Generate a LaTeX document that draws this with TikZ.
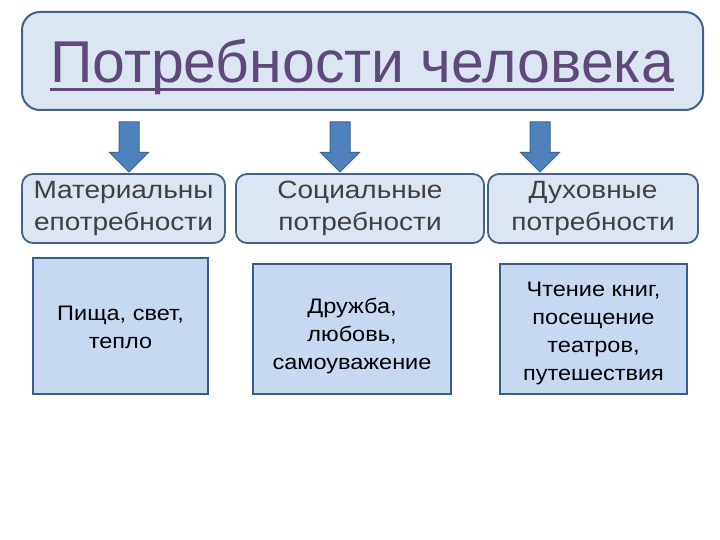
\documentclass[tikz,border=0pt]{standalone}
\usepackage{fontspec}
\setmainfont{Liberation Sans}[FakeStretch=1.12]
\newfontfamily\headfont{Liberation Sans}
\usetikzlibrary{shapes,arrows}
\definecolor{paleblue}{RGB}{220,230,242}
\definecolor{boxblue}{RGB}{198,217,241}
\definecolor{edgeblue}{RGB}{68,98,138}
\definecolor{darkedge}{RGB}{56,93,138}
\definecolor{arrowblue}{RGB}{79,129,189}
\definecolor{arrowedge}{RGB}{58,102,152}
\definecolor{titlepurple}{RGB}{95,73,122}
\definecolor{graytext}{RGB}{64,64,64}
\tikzstyle{head} = [rectangle, draw=edgeblue, fill=paleblue, line width=2pt,
    rounded corners=18pt, inner sep=0pt]
\tikzstyle{group} = [rectangle, draw=edgeblue, fill=paleblue, line width=1.8pt,
    rounded corners=11pt, text=graytext, align=center, inner sep=0pt,
    font=\fontsize{25}{32}\selectfont]
\tikzstyle{example} = [rectangle, draw=darkedge, fill=boxblue, line width=1.6pt,
    inner sep=0pt]
\tikzstyle{exampletext} = [align=center, inner sep=0pt, font=\fontsize{21}{28}\selectfont]
\tikzstyle{down} = [single arrow, draw=arrowedge, fill=arrowblue, line width=1pt,
    shape border rotate=270, inner sep=9.5pt, minimum height=50pt,
    single arrow head extend=9.5pt, single arrow head indent=0pt]

\begin{document}
\begin{tikzpicture}[x=1pt, y=-1pt]
        \path[fill=white, use as bounding box] (0,0) rectangle (720,540);
        % Place nodes
        % 1. Title
        \node [head, minimum width=681pt, minimum height=98pt] (needs) at (362.5,61) {};
        \node [anchor=base, inner sep=0pt, text=titlepurple,
               font=\headfont\fontsize{59}{64}\selectfont] (ttl) at (362,83) {Потребности человека};
        \draw [titlepurple, line width=3pt] ([yshift=-7pt]ttl.base west) -- ([yshift=-7pt]ttl.base east);

        % 2. Arrows down to the groups
        \node [down] (toMatl) at (129,142) {};
        \node [down] (toSoc) at (340,142) {};
        \node [down] (toSpir) at (540,142) {};

        % 3. Groups of needs
        \node [group, minimum width=203pt, minimum height=69pt] (matl) at (123.5,208.5) {Материальны\\епотребности};
        \node [group, minimum width=248pt, minimum height=69pt] (soc) at (360,208.5) {Социальные\\потребности};
        \node [group, minimum width=210pt, minimum height=69pt] (spir) at (593,208.5) {Духовные\\потребности};

        % 4. Examples (box, then its text)
        \node [example, minimum width=175pt, minimum height=136pt] (matlEx) at (120.5,326) {};
        \node [exampletext] (matlTxt) at ([yshift=-1pt]matlEx.center) {Пища, свет,\\тепло};
        \node [example, minimum width=198pt, minimum height=130pt] (socEx) at (352,329) {};
        \node [exampletext] (socTxt) at ([yshift=-7pt]socEx.center) {Дружба,\\любовь,\\самоуважение};
        \node [example, minimum width=187pt, minimum height=130pt] (spirEx) at (593.5,329) {};
        \node [exampletext] (spirTxt) at ([yshift=-4pt]spirEx.center) {Чтение книг,\\посещение\\театров,\\путешествия};
\end{tikzpicture}
\end{document}
